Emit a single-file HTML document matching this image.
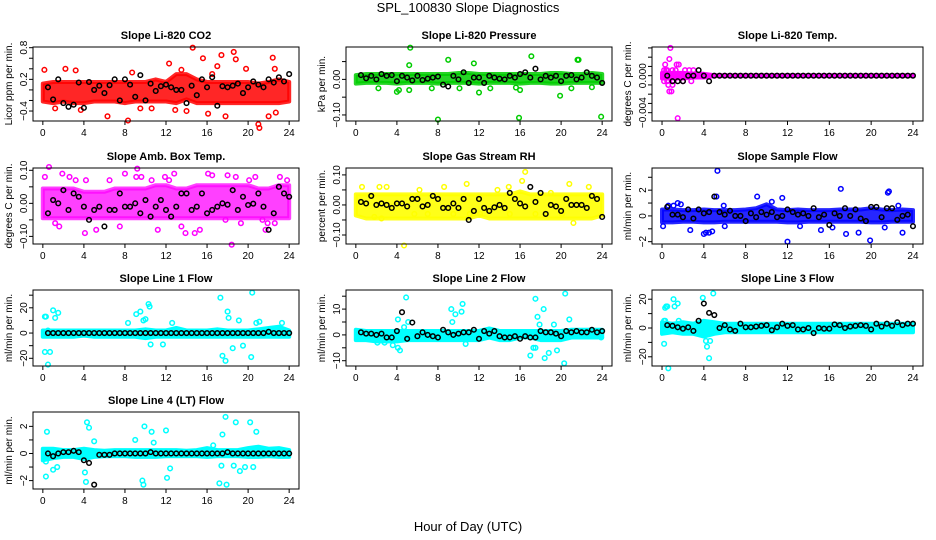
<!DOCTYPE html>
<html><head><meta charset="utf-8"><style>
html,body{margin:0;padding:0;background:#fff}
svg{display:block;font-family:"Liberation Sans",Arial,sans-serif}
</style></head><body>
<svg id="chart" width="936" height="540" viewBox="0 0 936 540" xmlns="http://www.w3.org/2000/svg">
<text x="468" y="12" font-size="13" text-anchor="middle">SPL_100830  Slope Diagnostics</text>
<text x="468" y="531" font-size="13" text-anchor="middle">Hour of Day (UTC)</text>
</svg>
<script>
// shared x for black (hourly-mean) points
const blackX = [0.5,1,1.5,2,2.5,3,3.5,4,4.5,5,5.5,6,6.5,7,7.5,8,8.5,9,9.5,10,10.5,11,11.5,12,12.5,13,13.5,14,14.5,15,15.5,16,16.5,17,17.5,18,18.5,19,19.5,20,20.5,21,21.5,22,22.5,23,23.5,24];
const bandHours = [0,1,2,3,4,5,6,7,8,9,10,11,12,13,14,15,16,17,18,19,20,21,22,23,24];
const xTicks = [0,4,8,12,16,20,24];

// CO2
const co2Lo = [-0.22,-0.25,-0.22,-0.25,-0.25,-0.22,-0.22,-0.22,-0.25,-0.22,-0.22,-0.22,-0.22,-0.25,-0.18,-0.25,-0.25,-0.25,-0.25,-0.25,-0.25,-0.25,-0.25,-0.25,-0.22];
const co2Hi = [0.12,0.15,0.15,0.15,0.15,0.15,0.15,0.15,0.15,0.15,0.15,0.2,0.15,0.3,0.3,0.2,0.15,0.15,0.15,0.15,0.15,0.12,0.15,0.2,0.15];
const co2OutX = [0.15,2.2,3.2,6.3,8.3,8.7,12.3,13.5,14.6,15.6,16.1,17,17.4,17.8,18.6,18.8,19.8,21,21.1,22,22.4,22.6,22.7,3.7,1.2,9.5,10.6,16.5,12.9,14];
const co2OutY = [0.38,0.4,0.37,-0.5,-0.58,0.33,0.5,0.38,0.8,0.6,-0.45,0.45,0.66,-0.5,0.72,0.58,0.4,-0.65,-0.72,-0.5,0.61,0.4,-0.43,-0.38,-0.35,-0.35,-0.35,0.3,-0.38,-0.4];
const co2Black = [0.05,-0.18,0.2,-0.25,-0.32,-0.28,0.14,-0.34,0.15,0,0.08,-0.06,0.09,0.2,-0.2,0.2,0.1,-0.13,0.28,-0.2,0.12,-0.02,0.07,0.1,0.05,0,0,-0.25,0.08,-0.1,0.2,0.05,0.24,-0.3,0.07,0.05,0.08,0.12,-0.06,0.05,0.16,0.1,0.05,0.2,0.14,0.24,0.16,0.3];

// Pressure
const presLo = [-0.012,-0.01,-0.01,-0.01,-0.012,-0.01,-0.01,-0.01,-0.012,-0.01,-0.01,-0.01,-0.012,-0.01,-0.01,-0.01,-0.012,-0.01,-0.01,-0.012,-0.012,-0.01,-0.01,-0.01,-0.01];
const presHi = [0.012,0.015,0.015,0.015,0.015,0.015,0.015,0.015,0.015,0.015,0.018,0.018,0.015,0.015,0.015,0.015,0.015,0.015,0.015,0.018,0.018,0.015,0.015,0.018,0.015];
const presOutX = [5.3,5.2,9,11.5,17.1,21.6,21.7,8,15.9,23.9,4,4.2,12,19.9,2.2,7.4,10.1,13.1,15.6,21,23,5.2,16];
const presOutY = [0.089,0.04,0.055,0.045,0.065,0.055,0.055,-0.113,-0.108,-0.105,-0.035,-0.03,-0.037,-0.046,-0.025,-0.025,-0.025,-0.025,-0.023,-0.025,-0.022,-0.03,-0.03];
const presBlack = [0.012,0.003,0.01,0,0.015,0.01,0.012,-0.005,0.01,0.005,-0.003,0.01,-0.002,0.002,0.005,0.008,-0.015,-0.02,0.01,0,0.02,-0.01,0.005,0.005,-0.01,0.01,0.005,0.002,0,0.01,0.005,0.015,0.02,0.005,0.03,0,0.01,0.005,0.01,-0.005,0.01,0.012,0,0.005,0.02,0.01,0.005,-0.01];

// Li-820 temp
const tempLo = [-0.0003,-0.0003,-0.0003,-0.0002,-0.0002,-0.00005,-0.00005,-0.00005,-0.00005,-0.00005,-0.00005,-0.00005,-0.00005,-0.00005,-0.00005,-0.00005,-0.00005,-0.00005,-0.00005,-0.00005,-0.00005,-0.00005,-0.00005,-0.00005,-0.00005];
const tempHi = [0.0003,0.0003,0.0003,0.0002,0.0002,0.00005,0.00005,0.00005,0.00005,0.00005,0.00005,0.00005,0.00005,0.00005,0.00005,0.00005,0.00005,0.00005,0.00005,0.00005,0.00005,0.00005,0.00005,0.00005,0.00005];
const tempOutX = [0.8,0.7,0.3,1.4,1.6,0.6,1,0.7,0.9,1.5,0.2,0.5,1.0,1.3,2.2,2.6,3.0,0.2,0.5,2.0,2.8,0.4,1.1];
const tempOutY = [0.003,0.0018,0.0012,0.0012,0.0012,-0.001,-0.001,-0.0017,-0.0017,-0.0046,0.0006,0.0006,0.0006,0.0006,0.0006,0.0006,0.0006,-0.0006,-0.0006,-0.0006,-0.0006,0.0006,-0.0006];
const tempBlack = [0,-0.0006,-0.0006,-0.0006,0,0,0.0006,0,-0.0006,0,0,0,0,0,0,0,0,0,0,0,0,0,0,0,0,0,0,0,0,0,0,0,0,0,0,0,0,0,0,0,0,0,0,0,0,0,0,0];

// Amb box temp
const ambLo = [-0.045,-0.045,-0.045,-0.045,-0.045,-0.045,-0.045,-0.045,-0.045,-0.045,-0.045,-0.045,-0.045,-0.045,-0.045,-0.045,-0.045,-0.045,-0.045,-0.045,-0.045,-0.045,-0.045,-0.045,-0.045];
const ambHi = [0.045,0.045,0.045,0.045,0.035,0.035,0.035,0.045,0.045,0.045,0.045,0.055,0.055,0.045,0.045,0.055,0.055,0.055,0.055,0.055,0.055,0.045,0.045,0.055,0.055];
const ambOutX = [0.2,0.6,1.2,1.9,2.6,3.2,4.1,5.2,6.5,7.5,8.0,9.2,9.6,10.6,11.9,12.3,12.8,13.9,14.8,15.3,16.1,16.5,17.8,18.4,18.8,19.3,20.1,20.7,21.4,21.7,22.6,23.1,23.8,1.6,4.2,11.2,13.5,18.0,21.9,9.1];
const ambOutY = [0.08,0.11,-0.06,0.09,0.08,0.07,-0.09,-0.08,0.07,-0.07,0.09,0.105,0.08,0.07,0.08,0.07,0.09,-0.09,-0.09,-0.08,0.09,0.085,-0.05,-0.125,0.08,-0.06,0.07,0.08,-0.05,-0.08,-0.06,0.08,0.07,-0.07,0.07,-0.08,-0.07,0.085,-0.06,0.08];
const ambBlack = [-0.03,0.01,0.0,0.04,-0.02,0.03,0.02,-0.01,-0.05,-0.02,-0.01,-0.07,-0.02,-0.02,0.03,-0.01,-0.01,0.0,-0.03,0.01,-0.04,-0.01,0.01,-0.02,-0.04,-0.01,0.03,0.03,-0.02,-0.01,0.03,-0.03,-0.02,-0.01,0,-0.004,0.04,-0.02,0.02,-0.005,-0.001,0.03,-0.01,-0.08,-0.03,0.05,0.03,0.02];

// Gas stream RH
const rhLo = [-0.035,-0.045,-0.045,-0.045,-0.045,-0.045,-0.045,-0.045,-0.045,-0.045,-0.045,-0.045,-0.035,-0.045,-0.045,-0.045,-0.045,-0.045,-0.045,-0.045,-0.045,-0.045,-0.045,-0.045,-0.035];
const rhHi = [0.035,0.035,0.035,0.035,0.035,0.035,0.035,0.035,0.035,0.035,0.035,0.035,0.035,0.035,0.035,0.035,0.045,0.035,0.035,0.035,0.035,0.035,0.035,0.035,0.035];
const rhOutX = [4.7,16.5,16.2,10.8,20.8,21.2,2.5,5.7,7.0,9.5,11.1,12.1,14.9,15.0,17.5,20.1,22.7,1.8,3.0,8.6,13.8,19.0,0.6,2.3,6.2];
const rhOutY = [-0.135,0.11,0.08,0.07,0.07,-0.06,-0.045,-0.03,-0.03,-0.03,-0.03,-0.03,0.06,-0.03,-0.03,-0.03,0.06,-0.04,0.06,0.06,0.05,0.04,0.06,0.06,0.05];
const rhBlack = [0.01,0.005,0.03,0.0,0.005,0.0,-0.01,0.005,0.005,-0.005,0.02,0.02,-0.005,0.0,0.03,0.02,-0.01,-0.01,0.005,-0.01,0.02,-0.05,-0.02,0.02,-0.01,-0.02,-0.008,0.0,-0.01,0.04,0.02,0.005,-0.005,0.06,0.01,0.04,-0.03,0.0,-0.005,-0.02,0.02,0.0,0.0,0.0,-0.01,0.03,0.02,-0.04];

// Sample flow
const sampLo = [-0.5,-0.5,-0.45,-0.45,-0.5,-0.5,-0.45,-0.45,-0.45,-0.45,-0.45,-0.45,-0.5,-0.5,-0.45,-0.45,-0.45,-0.45,-0.45,-0.45,-0.5,-0.5,-0.45,-0.45,-0.45];
const sampHi = [0.5,0.5,0.45,0.45,0.5,0.45,0.45,0.45,0.5,0.6,0.9,0.5,0.45,0.5,0.45,0.45,0.45,0.5,0.5,0.5,0.6,0.5,0.45,0.5,0.45];
const sampOutX = [5.3,0.1,0.6,1.1,1.8,2.7,4.0,4.2,4.5,4.8,5.2,5.9,6.0,9.1,10.5,11.5,12.0,13.2,15.2,16.3,17.1,17.6,18.8,19.9,21.3,21.6,21.7,23.0,22.6,1.5];
const sampOutY = [3.5,-0.8,0.8,0.8,0.9,-1.1,-1.4,-1.3,-1.3,-1.2,1.5,0.8,-0.8,1.5,1.1,1.4,-2.0,-0.8,-1.1,-0.9,2.1,-1.4,-1.3,-1.9,-0.9,1.8,1.9,-1.3,0.8,1.0];
const sampBlack = [0.7,0.1,0.1,-0.1,0.5,-0.2,0.5,0.2,0.3,1.5,0.3,0.1,0.4,0.0,0.0,-0.4,0.2,-0.1,0.3,0.1,0.3,-0.1,0.0,0.5,0.3,0.1,0.2,0.0,0.6,-0.1,0.1,-0.7,0.2,0.0,0.6,0.0,0.5,-0.2,-0.4,0.7,0.7,-0.1,0.6,0.6,-0.3,0.0,0.1,-0.8];

// Line 1 flow
const l1Lo = [-3,-3,-3,-3,-2,-3,-3,-3,-3,-3,-4,-3,-3,-3,-3,-3,-3,-3,-3,-3,-3,-3,-3,-3,-3];
const l1Hi = [2,2,2,2,2,2,2,2,2,2,3,2,2,4,2,2,2,3,2,2,2,3,4,5,2];
const l1OutX = [0.2,0.3,0.5,0.7,0.2,1.0,1.2,1.5,9.1,9.5,10.3,10.4,9.8,10.0,10.5,11.7,12.6,17.3,17.5,17.8,18.0,18.1,18.5,19.1,19.5,20.4,20.3,20.8,21.1,23.3,8.3,0.5];
const l1OutY = [13,13,-25,-15,-15,18,12,16,15,17,23,21,10,11,-9,-9,8,28,-18,-22,17,12,-12,10,-10,32,-19,8,9,8,8,2];
const l1Black = [0,0,0,0,0,0,0,0,0,0,0,0,0,0,0,0,0,0,0,0,0,0,0,0,0,0,0,0,0,0,0,0,0,0,0,0,0,0,0,0,0,0,0,1,0,0,0,0];

// Line 2 flow
const l2Lo = [-2,-2,-2.5,-2.5,-2.5,-2,-2,-2,-2,-2,-2,-2,-2,-1,-2,-2,-1,-1,-2,-2,-2,-1,-1,-1,-1];
const l2Hi = [2,1.5,1.5,1.5,1.5,1.5,1.5,1.5,1.5,1.5,1.5,1.5,1.5,2.5,1.5,1.5,1.5,1.5,1.5,1.5,1.5,2,2,2,2];
const l2OutX = [4.9,4.1,4.3,5.1,9.3,9.7,10.3,10.4,9.4,4.7,4.1,3.6,2.1,10.7,17.5,17.7,18.3,17.9,17.0,17.5,17.3,18.8,18.4,19.6,20.3,20.4,20.8,19.3,23.9,2.8];
const l2OutY = [14.5,6,-6,5,10,8,9,12,5,3,-5,-4,-3,-3.5,14,7,10,4,-8,-5,-5,-7,-9,-6,-11,16,6,4,-1,-3];
const l2Black = [1,0.5,0.5,0,0.5,-1,-1,1.5,8.8,-1.5,4.8,-0.5,1,0,-0.5,-1,2,1,0,0.5,1,1,2,-1.5,1.5,0.5,1.5,-0.5,-1,-1,-0.5,-1.5,-0.5,-1,-1,1.5,1,1,0.5,-0.5,1.5,1,1.5,1,1,2,1,1.5];

// Line 3 flow
const l3Lo = [-4,-3,-4,-4,-6,-4,-3,-3,-3,-3,-3,-3,-3,-3,-3,-3,-3,-3,-3,-3,-3,-3,-3,-3,-3];
const l3Hi = [4,3,4,3,5,4,3,3,3,3,3,3,3,3,3,3,3,3,3,3,3,3,3,3,3];
const l3OutX = [0.3,0.4,0.5,0.2,0.6,0.3,1.1,1.2,1.5,3.9,4.3,4.9,4.5,4.2,4.6,0.2,1.6];
const l3OutY = [14,15,15,-11,-28,5,20,15,17,21,-13,24,-21,-9,-9,5,5];
const l3Black = [2,1.5,0.5,-0.5,0.5,-2,5,17,10.5,9,0,2,-1,-2,3,0.5,0.5,1,1.5,2,-1.5,0.5,3,1.5,2,-1,-1,0,-3.5,0,-0.5,-0.5,2.5,2,0,1,1.5,2,1.5,-1,3,1,3,1.5,4,2,3,3];

// Line 4 (LT) flow
const l4Lo = [-0.5,-0.35,-0.25,-0.25,-0.4,-0.25,-0.2,-0.2,-0.2,-0.25,-0.25,-0.25,-0.2,-0.2,-0.2,-0.2,-0.25,-0.2,-0.2,-0.2,-0.25,-0.25,-0.2,-0.25,-0.25];
const l4Hi = [0.35,0.35,0.25,0.25,0.35,0.25,0.2,0.25,0.25,0.25,0.25,0.25,0.25,0.25,0.2,0.25,0.4,0.25,0.25,0.25,0.4,0.5,0.35,0.4,0.25];
const l4OutX = [0.4,0.3,1.0,1.4,4.3,4.5,4.1,4.2,5.0,9.0,9.7,9.8,9.9,10.6,12.0,12.1,10.8,12.4,17.5,17.8,17.2,17.4,17.9,18.8,18.6,19.2,19.7,20.2,20.5,20.8,16.6,0.3];
const l4OutY = [1.6,-1.7,-1.2,-1.0,2.3,1.9,-1.4,-2.1,0.9,1.0,-2.0,-2.3,2.0,1.6,1.7,-1.8,0.8,-1.1,1.4,2.7,-2.2,-0.9,-2.3,2.3,-0.9,-1.3,-1.0,2.3,-1.0,1.6,0.6,-0.6];
const l4Black = [0,-0.2,0,0.1,0.1,0.2,0.1,-0.5,-0.7,-2.3,-0.1,-0.1,-0.1,0,0,0,0,0,0,0,0.1,0,0,0,0,0,0,0,0,0,0,0,0,0,0,0.1,0,0,0,0,0,0,0,0,0,0,0,0];

const panels = [
 {name:'co2',title:'Slope Li-820 CO2',ylab:'Licor ppm per min.',col:'#ff0000',op:0.85,box:[33,47,299,121],y:[-0.589,0.813],ticks:[-0.4,-0.2,0,0.2,0.4,0.6,0.8],labels:[-0.4,0.2,0.8],dec:1,lo:co2Lo,hi:co2Hi,ox:co2OutX,oy:co2OutY,b:co2Black},
 {name:'pressure',title:'Slope Li-820 Pressure',ylab:'kPa per min.',col:'#00cc00',op:0.85,box:[346,47,612,121],y:[-0.117,0.091],ticks:[-0.1,-0.05,0,0.05],labels:[-0.1,0],dec:2,lo:presLo,hi:presHi,ox:presOutX,oy:presOutY,b:presBlack},
 {name:'li820-temp',title:'Slope Li-820 Temp.',ylab:'degrees C per min.',col:'#ff00ff',op:1,box:[652,47,923,121],y:[-0.0049,0.0031],ticks:[-0.004,-0.003,-0.002,-0.001,0,0.001,0.002,0.003],labels:[-0.004,0],dec:3,lo:tempLo,hi:tempHi,ox:tempOutX,oy:tempOutY,b:tempBlack},
 {name:'amb-box-temp',title:'Slope Amb. Box Temp.',ylab:'degrees C per min.',col:'#ff00ff',op:0.75,box:[33,168,299,244],y:[-0.123,0.107],ticks:[-0.1,-0.05,0,0.05,0.1],labels:[-0.1,0,0.1],dec:2,lo:ambLo,hi:ambHi,ox:ambOutX,oy:ambOutY,b:ambBlack},
 {name:'gas-stream-rh',title:'Slope Gas Stream RH',ylab:'percent per min.',col:'#ffff00',op:0.9,box:[346,168,612,244],y:[-0.130,0.123],ticks:[-0.1,-0.05,0,0.05,0.1],labels:[-0.1,0,0.1],dec:2,lo:rhLo,hi:rhHi,ox:rhOutX,oy:rhOutY,b:rhBlack},
 {name:'sample-flow',title:'Slope Sample Flow',ylab:'ml/min per min.',col:'#0000ff',op:0.85,box:[652,168,923,244],y:[-2.18,3.72],ticks:[-2,-1,0,1,2,3],labels:[-2,0,2],dec:0,lo:sampLo,hi:sampHi,ox:sampOutX,oy:sampOutY,b:sampBlack},
 {name:'line1-flow',title:'Slope Line 1 Flow',ylab:'ml/min per min.',col:'#00ffff',op:1,box:[33,290,299,366],y:[-26.1,34.1],ticks:[-20,-10,0,10,20,30],labels:[-20,0,20],dec:0,lo:l1Lo,hi:l1Hi,ox:l1OutX,oy:l1OutY,b:l1Black},
 {name:'line2-flow',title:'Slope Line 2 Flow',ylab:'ml/min per min.',col:'#00ffff',op:1,box:[346,290,612,366],y:[-12.05,17.4],ticks:[-10,-5,0,5,10,15],labels:[-10,0,10],dec:0,lo:l2Lo,hi:l2Hi,ox:l2OutX,oy:l2OutY,b:l2Black},
 {name:'line3-flow',title:'Slope Line 3 Flow',ylab:'ml/min per min.',col:'#00ffff',op:1,box:[652,290,923,366],y:[-26.4,26.4],ticks:[-20,-10,0,10,20],labels:[-20,0,20],dec:0,lo:l3Lo,hi:l3Hi,ox:l3OutX,oy:l3OutY,b:l3Black},
 {name:'line4-flow',title:'Slope Line 4 (LT) Flow',ylab:'ml/min per min.',col:'#00ffff',op:1,box:[33,412,299,489],y:[-2.62,3.06],ticks:[-2,-1,0,1,2],labels:[-2,0,2],dec:0,lo:l4Lo,hi:l4Hi,ox:l4OutX,oy:l4OutY,b:l4Black}
];

const NS='http://www.w3.org/2000/svg';
const svg=document.getElementById('chart');
function mk(tag,attrs,parent){const e=document.createElementNS(NS,tag);for(const k in attrs)e.setAttribute(k,attrs[k]);(parent||svg).appendChild(e);return e;}

panels.forEach(p=>{
  const [L,T,R,B]=p.box;
  const g=mk('g',{});
  
  
  const w=R-L, x0=L+w*0.037, x1=R-w*0.037;
  const sx=v=>x0+(v/24)*(x1-x0);
  const sy=v=>B-(v-p.y[0])/(p.y[1]-p.y[0])*(B-T);
  let d='';
  bandHours.forEach((h,i)=>{d+=(i?'L':'M')+sx(h).toFixed(1)+' '+sy(p.hi[i]).toFixed(1);});
  for(let i=bandHours.length-1;i>=0;i--){d+='L'+sx(bandHours[i]).toFixed(1)+' '+sy(p.lo[i]).toFixed(1);}
  const band=mk('path',{d:d+'Z',fill:p.col,'fill-opacity':p.op,stroke:p.col,'stroke-opacity':p.op,'stroke-width':4,'stroke-linejoin':'round'},g);
  
  
  p.ox.forEach((x,i)=>{
    const c=mk('circle',{cx:sx(x),cy:sy(p.oy[i]),r:2.3,fill:'none',stroke:p.col,'stroke-width':1.5},g);
    
    
  });
  blackX.forEach((x,i)=>{
    const c=mk('circle',{cx:sx(x),cy:sy(p.b[i]),r:2.3,fill:'none',stroke:'#000','stroke-width':1.5},g);
    
    
  });
  const bx=mk('rect',{x:L,y:T,width:w,height:B-T,fill:'none',stroke:'#000','stroke-width':1},g);
  
  
  mk('line',{x1:sx(0),x2:sx(24),y1:B,y2:B,stroke:'#000'},g);
  xTicks.forEach(t=>{
    mk('line',{x1:sx(t),x2:sx(t),y1:B,y2:B+4,stroke:'#000'},g);
    const tx=mk('text',{x:sx(t),y:B+15,'font-size':10,'text-anchor':'middle'},g);
    tx.textContent=t;
    
    
  });
  mk('line',{x1:L,x2:L,y1:sy(p.ticks[0]),y2:sy(p.ticks[p.ticks.length-1]),stroke:'#000'},g);
  p.ticks.forEach(t=>mk('line',{x1:L,x2:L-4,y1:sy(t),y2:sy(t),stroke:'#000'},g));
  p.labels.forEach(t=>{
    const yy=sy(t);
    const tx=mk('text',{x:L-6,y:yy,'font-size':10,'text-anchor':'middle',transform:`rotate(-90 ${L-6} ${yy})`},g);
    tx.textContent=t.toFixed(p.dec).replace('-','\u2212');
    
    
  });
  const yc=(T+B)/2;
  const yl=mk('text',{x:L-21,y:yc,'font-size':10,'text-anchor':'middle',transform:`rotate(-90 ${L-21} ${yc})`},g);
  yl.textContent=p.ylab;
  
  
  const ti=mk('text',{x:(L+R)/2,y:T-8,'font-size':11,'font-weight':'bold','text-anchor':'middle'},g);
  ti.textContent=p.title;
  
  
});
</script>
</body></html>
